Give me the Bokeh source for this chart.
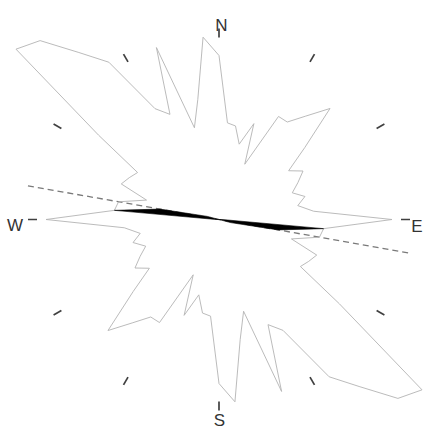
import numpy as np
from bokeh.plotting import figure
from bokeh.models import Range1d
from bokeh.core.properties import value
from bokeh.embed import file_html
from bokeh.resources import INLINE

# ---- data (axial rose: values for 0..175 deg, mirrored to 180..355) ----
bin_azimuths = list(range(0, 180, 5))
bin_radii = [164, 97, 95, 78, 102, 61, 119, 119, 135, 157,
             112, 85, 97, 87, 78, 89, 80, 95, 173, 105,
             102, 75, 104, 99, 94, 147, 265, 253, 218, 192,
             128, 116, 183, 95, 122, 183]

# secondary (filled) rose, only a few non-zero bins
black_azimuths = [90, 95, 100, 105]
black_radii = [3, 105, 60, 12]

mean_direction = 100        # dashed axis (degrees from north)
mean_length = 194

tick_azimuths = list(range(0, 360, 30))
compass_labels = ["N", "E", "S", "W"]

# ---- figure ----
p = figure(width=424, height=429, output_backend="svg", toolbar_location=None,
           x_range=Range1d(-218.5, 205.5), y_range=Range1d(-210, 219),
           min_border=0)
p.axis.visible = False
p.grid.visible = False
p.outline_line_color = None
p.background_fill_color = "white"


def polar(az_deg, r):
    a = np.radians(np.asarray(az_deg, dtype=float))
    r = np.asarray(r, dtype=float)
    return r * np.sin(a), r * np.cos(a)


# dashed mean axis
dx, dy = polar([mean_direction + 180, mean_direction], [mean_length, mean_length])
p.line(list(dx), list(dy), line_color="#7a7a7a", line_width=1.3, line_dash="6 4")

# outer rose outline (mirrored)
full_az = bin_azimuths + [a + 180 for a in bin_azimuths]
full_r = bin_radii + bin_radii
ox, oy = polar(full_az, full_r)
p.patch(list(ox), list(oy), fill_color=None, line_color="#b3b3b3", line_width=0.9)

# filled black rose (mirrored bow-tie)
bx_az = [0] + black_azimuths + [0] + [a + 180 for a in black_azimuths]
bx_r = [0] + black_radii + [0] + black_radii
bx, by = polar(bx_az, bx_r)
p.patch(list(bx), list(by), fill_color="black", line_color="black", line_width=0.6)

# compass ticks
t0x, t0y = polar(tick_azimuths, [182] * len(tick_azimuths))
t1x, t1y = polar(tick_azimuths, [191] * len(tick_azimuths))
p.segment(list(t0x), list(t0y), list(t1x), list(t1y), line_color="#404040", line_width=1.7)

# compass labels
lab_x = [2.5, 198, 0.5, -204]
lab_y = [194, -6.5, -200.5, -6]
p.text(lab_x, lab_y, text=compass_labels, text_font=value("Liberation Sans"),
       text_font_size="17px", text_color="#333333", text_align="center",
       text_baseline="alphabetic")

open("out.html", "w").write(file_html(p, INLINE))
